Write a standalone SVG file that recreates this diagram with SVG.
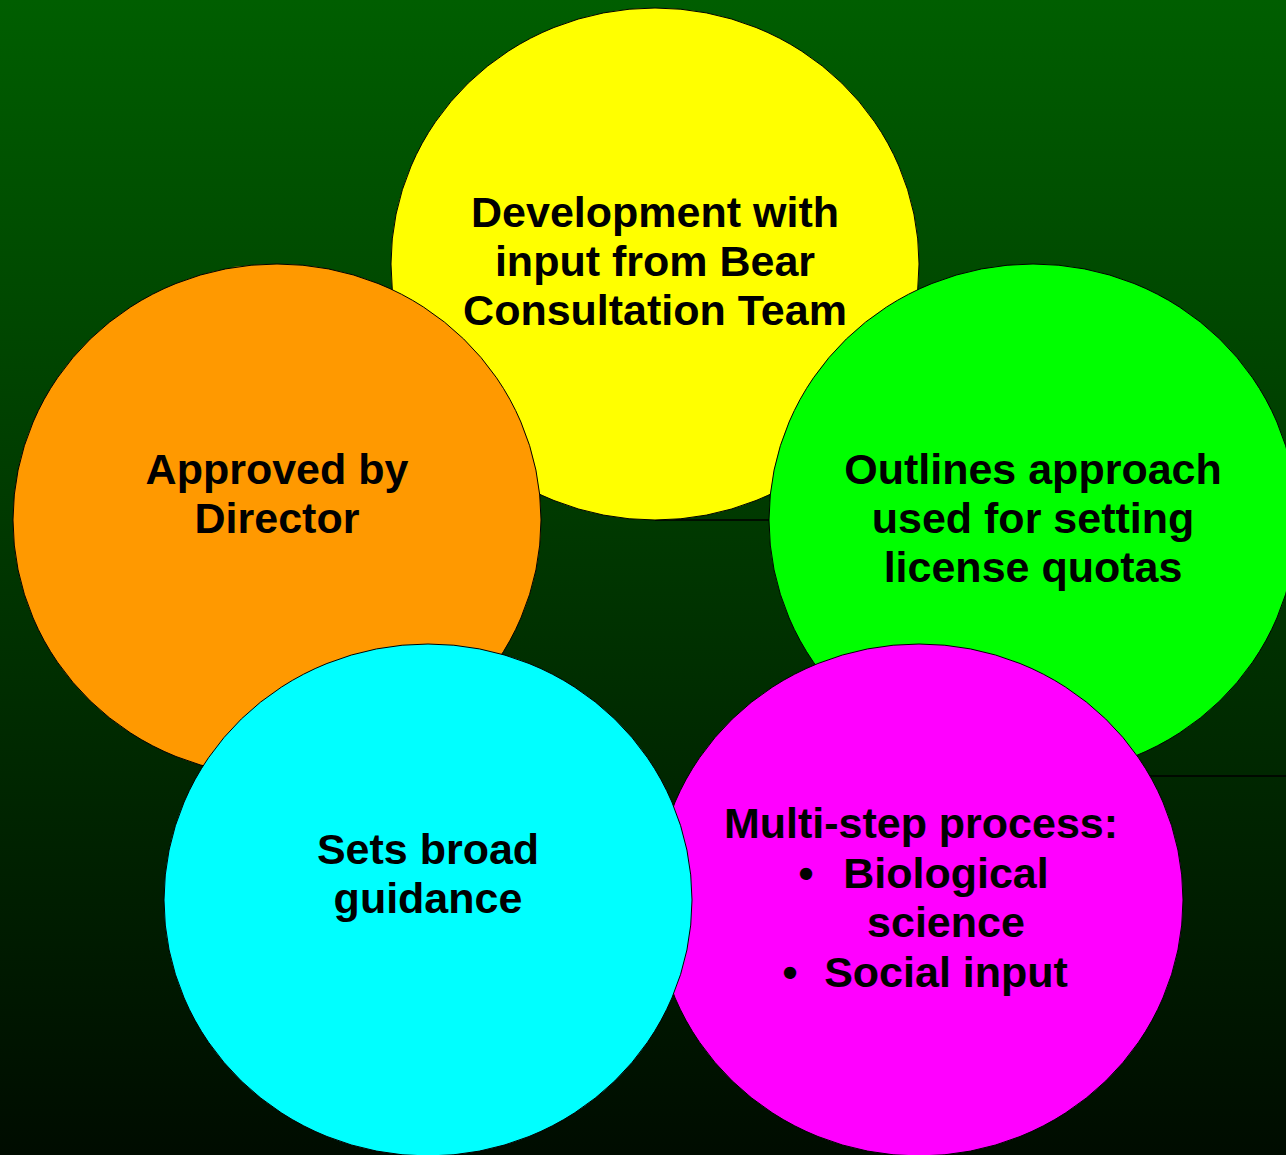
<svg xmlns="http://www.w3.org/2000/svg" width="1286" height="1155" viewBox="0 0 1286 1155">
<defs>
<linearGradient id="bg" x1="0" y1="0" x2="0" y2="1">
<stop offset="0" stop-color="#005E00"/>
<stop offset="1" stop-color="#000C00"/>
</linearGradient>
</defs>
<style>
ellipse{stroke:#000;stroke-width:1}
text{font-family:"Liberation Sans",Arial,sans-serif;font-weight:bold;font-size:43px;fill:#000;text-anchor:middle}
.c{stroke:#000;stroke-width:1.5;fill:none}
</style>
<rect width="1286" height="1155" fill="url(#bg)"/>
<g id="connectors">
<line class="c" x1="655" y1="520" x2="770" y2="520"/>
<line class="c" x1="1033" y1="776" x2="1286" y2="776"/>
</g>
<g id="n1">
<ellipse cx="655" cy="264" rx="264" ry="256" fill="#FFFF00"/>
<text x="655" y="227">Development with</text>
<text x="655" y="276">input from Bear</text>
<text x="655" y="325">Consultation Team</text>
</g>
<g id="n2">
<ellipse cx="277" cy="520" rx="264" ry="256" fill="#FF9900"/>
<text x="277" y="484">Approved by</text>
<text x="277" y="533">Director</text>
</g>
<g id="n3">
<ellipse cx="1033" cy="520" rx="264" ry="256" fill="#00FF00"/>
<text x="1033" y="484">Outlines approach</text>
<text x="1033" y="533">used for setting</text>
<text x="1033" y="582">license quotas</text>
</g>
<g id="n4">
<ellipse cx="919" cy="900" rx="264" ry="256" fill="#FF00FF"/>
<text x="921" y="838">Multi-step process:</text>
<text x="806" y="888">•</text>
<text x="946" y="888">Biological</text>
<text x="946" y="937">science</text>
<text x="790" y="987">•</text>
<text x="946" y="987">Social input</text>
</g>
<g id="n5">
<ellipse cx="428" cy="900" rx="264" ry="256" fill="#00FFFF"/>
<text x="428" y="864">Sets broad</text>
<text x="428" y="913">guidance</text>
</g>
</svg>
